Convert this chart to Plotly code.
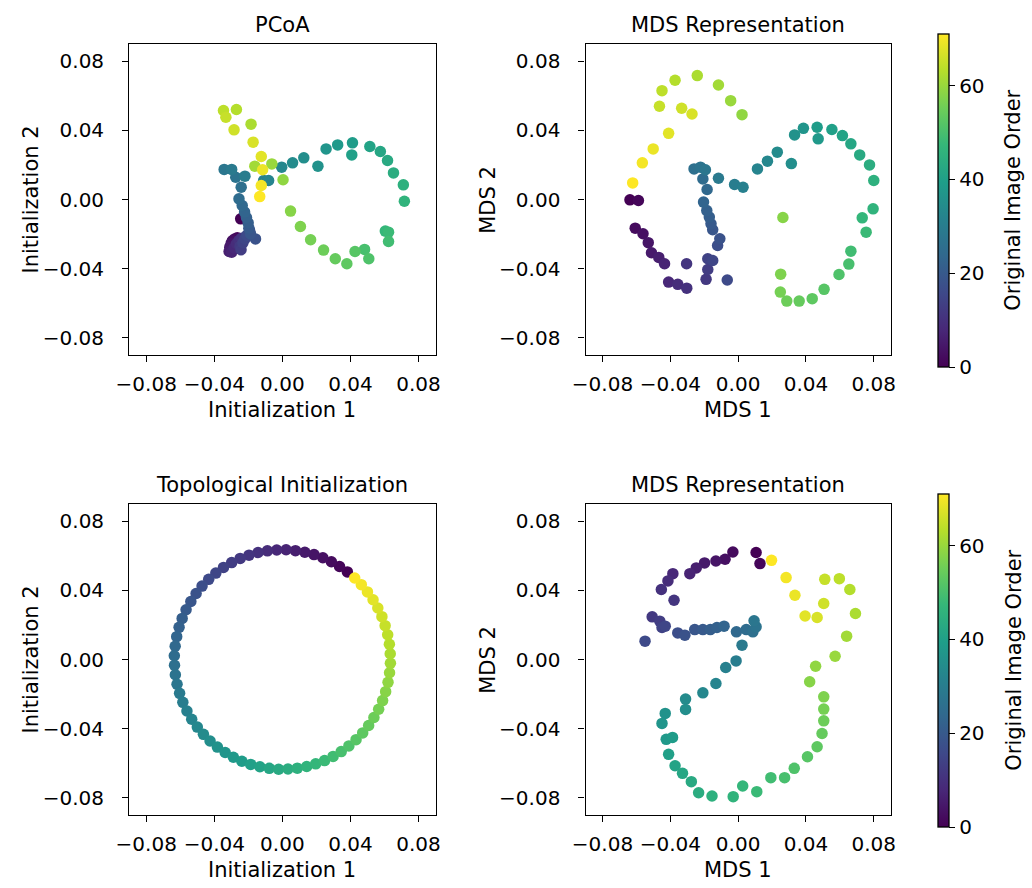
import plotly.graph_objects as go

# ---------------- data ----------------
image_order = list(range(72))

pcoa_x = [-0.0245, -0.0265, -0.0280, -0.0294, -0.0301, -0.0309, -0.0313, -0.0298, -0.0284, -0.0270,
          -0.0255, -0.0240, -0.0249, -0.0243, -0.0232, -0.0220, -0.0209, -0.0193, -0.0158, -0.0187,
          -0.0197, -0.0201, -0.0211, -0.0222, -0.0236, -0.0255, -0.0242, -0.0274, -0.0342, -0.0298,
          -0.0220, -0.0110, -0.0081, -0.0004, 0.0060, 0.0126, 0.0209, 0.0257, 0.0325, 0.0412,
          0.0408, 0.0514, 0.0576, 0.0618, 0.0653, 0.0711, 0.0717, 0.0605, 0.0624, 0.0624,
          0.0483, 0.0508, 0.0427, 0.0379, 0.0311, 0.0242, 0.0166, 0.0106, 0.0048, 0.0004,
          -0.0062, -0.0162, -0.0184, -0.0270, -0.0346, -0.0332, -0.0284, -0.0172, -0.0124, -0.0116,
          -0.0124, -0.0133]
pcoa_y = [-0.0112, -0.0222, -0.0228, -0.0239, -0.0254, -0.0276, -0.0301, -0.0305, -0.0281, -0.0256,
          -0.0237, -0.0224, -0.0270, -0.0291, -0.0251, -0.0228, -0.0208, -0.0179, -0.0228, -0.0199,
          -0.0166, -0.0135, -0.0104, -0.0073, -0.0035, 0.0004, 0.0071, 0.0129, 0.0174, 0.0174,
          0.0135, 0.0110, 0.0110, 0.0187, 0.0212, 0.0241, 0.0193, 0.0293, 0.0316, 0.0328,
          0.0258, 0.0307, 0.0278, 0.0226, 0.0154, 0.0085, -0.0010, -0.0183, -0.0189, -0.0243,
          -0.0289, -0.0343, -0.0301, -0.0372, -0.0343, -0.0293, -0.0233, -0.0156, -0.0067, 0.0114,
          0.0206, 0.0193, 0.0436, 0.0521, 0.0515, 0.0476, 0.0403, 0.0332, 0.0249, 0.0172,
          0.0081, 0.0017]

mds1_x = [-0.0638, -0.0588, -0.0607, -0.0561, -0.0530, -0.0511, -0.0468, -0.0434, -0.0410, -0.0356,
          -0.0303, -0.0304, -0.0189, -0.0179, -0.0179, -0.0150, -0.0064, -0.0121, -0.0108, -0.0150,
          -0.0160, -0.0170, -0.0185, -0.0204, -0.0183, -0.0208, -0.0260, -0.0222, -0.0193, -0.0116,
          -0.0021, 0.0029, 0.0114, 0.0173, 0.0231, 0.0314, 0.0333, 0.0385, 0.0472, 0.0466,
          0.0553, 0.0615, 0.0665, 0.0717, 0.0775, 0.0800, 0.0796, 0.0732, 0.0755, 0.0665,
          0.0653, 0.0595, 0.0507, 0.0437, 0.0360, 0.0287, 0.0249, 0.0251, 0.0264, 0.0023,
          -0.0044, -0.0116, -0.0241, -0.0372, -0.0449, -0.0464, -0.0333, -0.0272, -0.0410, -0.0501,
          -0.0565, -0.0622]
mds1_y = [-0.0002, -0.0006, -0.0166, -0.0198, -0.0250, -0.0308, -0.0335, -0.0372, -0.0478, -0.0491,
          -0.0513, -0.0372, -0.0462, -0.0405, -0.0343, -0.0353, -0.0466, -0.0266, -0.0227, -0.0175,
          -0.0141, -0.0102, -0.0064, -0.0015, 0.0058, 0.0119, 0.0177, 0.0187, 0.0172, 0.0123,
          0.0087, 0.0071, 0.0177, 0.0222, 0.0274, 0.0208, 0.0374, 0.0412, 0.0351, 0.0418,
          0.0405, 0.0370, 0.0322, 0.0258, 0.0200, 0.0110, -0.0054, -0.0106, -0.0189, -0.0299,
          -0.0374, -0.0434, -0.0520, -0.0574, -0.0588, -0.0588, -0.0536, -0.0432, -0.0104, 0.0491,
          0.0572, 0.0663, 0.0717, 0.0690, 0.0630, 0.0540, 0.0528, 0.0495, 0.0383, 0.0293,
          0.0212, 0.0096]

topo_x = [0.0382, 0.0336, 0.0288, 0.0238, 0.0186, 0.0132, 0.0077, 0.0022, -0.0033, -0.0088,
          -0.0143, -0.0196, -0.0248, -0.0298, -0.0346, -0.0391, -0.0433, -0.0472, -0.0507, -0.0538,
          -0.0566, -0.0589, -0.0607, -0.0621, -0.0630, -0.0635, -0.0634, -0.0629, -0.0619, -0.0604,
          -0.0585, -0.0561, -0.0533, -0.0500, -0.0464, -0.0425, -0.0382, -0.0336, -0.0288, -0.0238,
          -0.0186, -0.0132, -0.0077, -0.0022, 0.0033, 0.0088, 0.0143, 0.0196, 0.0248, 0.0298,
          0.0346, 0.0391, 0.0433, 0.0472, 0.0507, 0.0538, 0.0566, 0.0589, 0.0607, 0.0621,
          0.0630, 0.0635, 0.0634, 0.0629, 0.0619, 0.0604, 0.0585, 0.0561, 0.0533, 0.0500,
          0.0464, 0.0425]
topo_y = [0.0507, 0.0538, 0.0566, 0.0589, 0.0607, 0.0621, 0.0630, 0.0635, 0.0634, 0.0629,
          0.0619, 0.0604, 0.0585, 0.0561, 0.0533, 0.0500, 0.0464, 0.0425, 0.0382, 0.0336,
          0.0288, 0.0238, 0.0186, 0.0132, 0.0077, 0.0022, -0.0033, -0.0088, -0.0143, -0.0196,
          -0.0248, -0.0298, -0.0346, -0.0391, -0.0433, -0.0472, -0.0507, -0.0538, -0.0566, -0.0589,
          -0.0607, -0.0621, -0.0630, -0.0635, -0.0634, -0.0629, -0.0619, -0.0604, -0.0585, -0.0561,
          -0.0533, -0.0500, -0.0464, -0.0425, -0.0382, -0.0336, -0.0288, -0.0238, -0.0186, -0.0132,
          -0.0077, -0.0022, 0.0033, 0.0088, 0.0143, 0.0196, 0.0248, 0.0298, 0.0346, 0.0391,
          0.0433, 0.0472]

mds2_x = [0.0106, 0.0129, -0.0031, -0.0077, -0.0131, -0.0198, -0.0247, -0.0285, -0.0385, -0.0414,
          -0.0453, -0.0378, -0.0507, -0.0462, -0.0449, -0.0430, -0.0549, -0.0356, -0.0314, -0.0256,
          -0.0208, -0.0164, -0.0125, -0.0083, -0.0010, 0.0048, 0.0087, 0.0106, 0.0094, 0.0023,
          -0.0012, -0.0073, -0.0131, -0.0208, -0.0310, -0.0310, -0.0430, -0.0449, -0.0424, -0.0387,
          -0.0410, -0.0372, -0.0328, -0.0276, -0.0233, -0.0154, -0.0029, 0.0027, 0.0110, 0.0193,
          0.0274, 0.0331, 0.0409, 0.0466, 0.0495, 0.0505, 0.0505, 0.0505, 0.0422, 0.0457,
          0.0572, 0.0640, 0.0692, 0.0659, 0.0597, 0.0511, 0.0505, 0.0466, 0.0395, 0.0335,
          0.0283, 0.0197]
mds2_y = [0.0619, 0.0555, 0.0622, 0.0580, 0.0570, 0.0559, 0.0530, 0.0497, 0.0497, 0.0455,
          0.0405, 0.0343, 0.0247, 0.0222, 0.0185, 0.0193, 0.0106, 0.0154, 0.0141, 0.0173,
          0.0173, 0.0173, 0.0185, 0.0193, 0.0160, 0.0173, 0.0160, 0.0189, 0.0224, 0.0083,
          -0.0008, -0.0046, -0.0139, -0.0193, -0.0229, -0.0289, -0.0312, -0.0370, -0.0462, -0.0451,
          -0.0549, -0.0615, -0.0659, -0.0707, -0.0771, -0.0790, -0.0794, -0.0732, -0.0765, -0.0684,
          -0.0684, -0.0630, -0.0563, -0.0505, -0.0428, -0.0355, -0.0287, -0.0216, -0.0129, -0.0039,
          0.0019, 0.0135, 0.0266, 0.0405, 0.0468, 0.0464, 0.0324, 0.0243, 0.0252, 0.0372,
          0.0474, 0.0574]

tick_vals = [-0.08, -0.04, 0.0, 0.04, 0.08]
tick_text = ["\u22120.08", "\u22120.04", "0.00", "0.04", "0.08"]
cbar_ticks = [0, 20, 40, 60]
titles = ["PCoA", "MDS Representation", "Topological Initialization", "MDS Representation"]
xlabels = ["Initialization 1", "MDS 1", "Initialization 1", "MDS 1"]
ylabels = ["Initialization 2", "MDS 2", "Initialization 2", "MDS 2"]
cbar_title = "Original Image Order"

# ---------------- layout helpers ----------------
W, H = 1032, 888
FONT = "DejaVu Sans"
TXT = 21
TICK = 20


def fx(p):
    return p / W


def fy(p):
    return 1 - p / H


# pixel boxes: left, right, top, bottom
boxes = [(118.3, 430.0, 44.0, 355.0), (582.7, 893.3, 44.0, 355.0),
         (118.3, 430.0, 504.0, 815.0), (582.7, 893.3, 504.0, 815.0)]
series = [(pcoa_x, pcoa_y), (mds1_x, mds1_y), (topo_x, topo_y), (mds2_x, mds2_y)]
cbar_boxes = {1: (34.0, 367.0), 3: (494.0, 827.0)}

fig = go.Figure()
annotations = []
layout = dict(width=W, height=H, margin=dict(l=0, r=0, t=0, b=0),
              paper_bgcolor="white", plot_bgcolor="white", showlegend=False,
              font=dict(family=FONT, color="black"))

for i, ((xs, ys), (l, r, t, b)) in enumerate(zip(series, boxes)):
    n = i + 1
    xa = "x" if n == 1 else f"x{n}"
    ya = "y" if n == 1 else f"y{n}"
    marker = dict(color=image_order, colorscale="Viridis", cmin=0, cmax=71,
                  size=11.5, line=dict(width=0), opacity=1)
    if i in cbar_boxes:
        ct, cb = cbar_boxes[i]
        marker["showscale"] = True
        marker["colorbar"] = dict(
            x=fx(941.7), xanchor="left", xpad=0, ypad=0,
            y=fy((ct + cb) / 2), yanchor="middle", len=(cb - ct) / H, lenmode="fraction",
            thickness=11, thicknessmode="pixels",
            outlinewidth=1.3, outlinecolor="black",
            tickmode="array", tickvals=cbar_ticks, ticks="outside", ticklen=6,
            tickwidth=1.3, tickcolor="black",
            tickfont=dict(size=TICK, family=FONT, color="black"),
        )
        annotations.append(dict(text=cbar_title, x=fx(1018), y=fy((ct + cb) / 2),
                                xref="paper", yref="paper", xanchor="center",
                                yanchor="middle", showarrow=False, textangle=-90,
                                font=dict(size=TXT, family=FONT, color="black")))
    else:
        marker["showscale"] = False
    fig.add_trace(go.Scatter(x=xs, y=ys, mode="markers", marker=marker,
                             xaxis=xa, yaxis=ya, hoverinfo="skip"))

    axis_common = dict(range=[-0.09, 0.09], showgrid=False, zeroline=False,
                       showline=True, mirror=True, linecolor="black", linewidth=1.3,
                       ticks="outside", ticklen=6, tickwidth=1.3, tickcolor="black",
                       tickmode="array", tickvals=tick_vals, ticktext=tick_text,
                       tickfont=dict(size=TICK, family=FONT, color="black"))
    layout["xaxis" if n == 1 else f"xaxis{n}"] = dict(axis_common, domain=[fx(l), fx(r)],
                                                      anchor=ya, ticklabelstandoff=5)
    layout["yaxis" if n == 1 else f"yaxis{n}"] = dict(axis_common, domain=[fy(b), fy(t)],
                                                      anchor=xa, ticklabelstandoff=14)

    cx = (l + r) / 2
    annotations.append(dict(text=titles[i], x=fx(cx), y=fy(t - 19), xref="paper", yref="paper",
                            xanchor="center", yanchor="middle", showarrow=False,
                            font=dict(size=TXT, family=FONT, color="black")))
    annotations.append(dict(text=xlabels[i], x=fx(cx), y=fy(b + 55), xref="paper", yref="paper",
                            xanchor="center", yanchor="middle", showarrow=False,
                            font=dict(size=TXT, family=FONT, color="black")))
    annotations.append(dict(text=ylabels[i], x=fx(l - 100), y=fy((t + b) / 2), xref="paper",
                            yref="paper", xanchor="center", yanchor="middle", showarrow=False,
                            textangle=-90, font=dict(size=TXT, family=FONT, color="black")))

layout["annotations"] = annotations
fig.update_layout(**layout)
fig.write_html("out.html")
